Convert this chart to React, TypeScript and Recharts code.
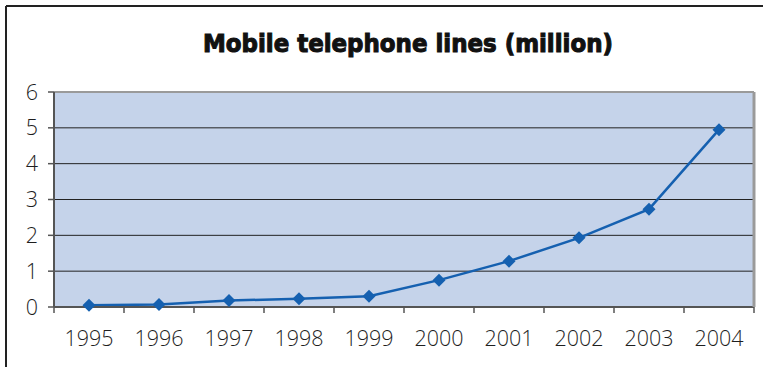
import React from 'react'
import {
  LineChart,
  Line,
  XAxis,
  YAxis,
  CartesianGrid,
  ReferenceLine,
} from 'recharts'

const YEARS = ['1995', '1996', '1997', '1998', '1999', '2000', '2001', '2002', '2003', '2004']
const LINES = [0.05, 0.07, 0.18, 0.23, 0.3, 0.75, 1.28, 1.93, 2.73, 4.95]
const Y_TICKS = [0, 1, 2, 3, 4, 5, 6]

const W = 763
const H = 367
const PLOT_W = 700
const HALF = PLOT_W / YEARS.length / 2
const TICK = 6
const X_MARGIN = 18

const BLUE = '#1560b0'
const AXIS = '#555'
const LABEL_FONT = { fontFamily: '"Open Sans", "Liberation Sans", sans-serif', fontWeight: 300 }

const data = YEARS.map((year, i) => ({ year, lines: LINES[i] }))

const Diamond = (props: any) => {
  const { cx, cy } = props
  if (cx == null || cy == null) return null
  const r = 6.5
  return (
    <polygon
      points={`${cx},${cy - r} ${cx + r},${cy} ${cx},${cy + r} ${cx - r},${cy}`}
      fill={BLUE}
    />
  )
}

const YearTick = (props: any) => {
  const { x, y, payload, index } = props
  const top = y - X_MARGIN - TICK
  const last = index === YEARS.length - 1
  return (
    <g>
      <line x1={x - HALF} x2={x - HALF} y1={top} y2={top + TICK} stroke={AXIS} strokeWidth={1.5} />
      {last && (
        <line x1={x + HALF} x2={x + HALF} y1={top} y2={top + TICK} stroke={AXIS} strokeWidth={1.5} />
      )}
      <text x={x} y={y} dy="0.71em" textAnchor="middle" fontSize={21.5} fill="#1e1e1e" style={LABEL_FONT}>
        {payload.value}
      </text>
    </g>
  )
}

export default function App() {
  return (
    <div style={{ position: 'absolute', left: 0, top: 0, width: W, height: H, background: '#fff' }}>
      <svg width={W} height={H} style={{ position: 'absolute', left: 0, top: 0 }}>
        <line x1={6} x2={W} y1={6} y2={6} stroke="#222" strokeWidth={2} />
        <line x1={6} x2={6} y1={6} y2={H} stroke="#222" strokeWidth={2} />
        <text
          x={408}
          y={52}
          textAnchor="middle"
          fontSize={25}
          fontWeight={900}
          fill="#111"
          stroke="#111"
          strokeWidth={1.1}
          textLength={410}
          lengthAdjust="spacingAndGlyphs"
          style={{ fontFamily: '"DejaVu Sans", sans-serif' }}
        >
          Mobile telephone lines (million)
        </text>
      </svg>
      <div style={{ position: 'absolute', left: 0, top: 0 }}>
        <LineChart width={W} height={H} data={data} margin={{ top: 92, right: 0, bottom: 0, left: 0 }}>
          <CartesianGrid vertical={false} stroke="#222" fill="#c5d3ea" fillOpacity={1} yAxisId="l" />
          <XAxis
            dataKey="year"
            height={60}
            padding={{ left: HALF, right: HALF }}
            axisLine={{ stroke: AXIS, strokeWidth: 2 }}
            tickLine={false}
            tickSize={TICK}
            tickMargin={X_MARGIN}
            interval={0}
            tick={<YearTick />}
          />
          <YAxis
            yAxisId="l"
            width={54}
            domain={[0, 6]}
            ticks={Y_TICKS}
            interval={0}
            axisLine={{ stroke: AXIS, strokeWidth: 2 }}
            tickLine={{ stroke: AXIS, strokeWidth: 1.5 }}
            tickSize={TICK}
            tickMargin={10}
            tick={{ fontSize: 21.5, fill: '#1e1e1e', ...LABEL_FONT }}
          />
          <YAxis
            yAxisId="r"
            orientation="right"
            width={9}
            domain={[0, 6]}
            ticks={Y_TICKS}
            tick={false}
            tickLine={false}
            axisLine={{ stroke: '#9a9a9a', strokeWidth: 3 }}
          />
          <ReferenceLine yAxisId="l" y={6} stroke="#9a9a9a" strokeWidth={2} />
          <Line
            yAxisId="l"
            type="linear"
            dataKey="lines"
            stroke={BLUE}
            strokeWidth={2.5}
            dot={<Diamond />}
            activeDot={false}
            isAnimationActive={false}
          />
        </LineChart>
      </div>
    </div>
  )
}
